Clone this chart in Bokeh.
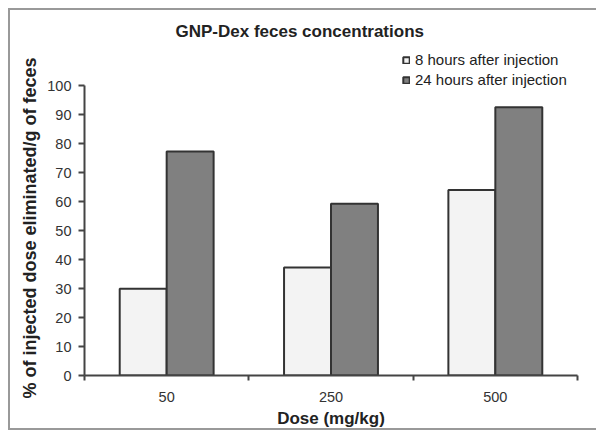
from bokeh.plotting import figure
from bokeh.models import ColumnDataSource, FixedTicker, Range1d, Legend, LegendItem, Title
from bokeh.embed import file_html
from bokeh.resources import INLINE

doses = ["50", "250", "500"]
h8 = [29.9, 37.2, 64.0]
h24 = [77.2, 59.2, 92.5]
series_names = ["8 hours after injection", "24 hours after injection"]
y_ticks = [0, 10, 20, 30, 40, 50, 60, 70, 80, 90, 100]

FONT = "Liberation Sans"
bar_w = 1 / 3.5
centers = [i + 0.5 for i in range(len(doses))]

src = ColumnDataSource(dict(
    x8=[c - bar_w / 2 for c in centers],
    x24=[c + bar_w / 2 for c in centers],
    h8=h8, h24=h24,
))

p = figure(width=588, height=422, output_backend="svg", toolbar_location=None,
           x_range=Range1d(0, len(doses)), y_range=Range1d(0, 112.07),
           min_border_left=74, min_border_right=21, min_border_top=40, min_border_bottom=57)
p.title.text = "GNP-Dex feces concentrations"
p.title.align = "left"
p.title.offset = 91
p.title.text_font = FONT
p.title.text_font_size = "17px"
p.title.text_font_style = "bold"
p.title.text_color = "#222222"
p.title.standoff = 19

p.grid.visible = False
p.outline_line_color = None
p.background_fill_color = "white"
p.border_fill_color = "white"

r8 = p.vbar(x="x8", top="h8", width=bar_w, source=src, fill_color="#f3f3f3",
            line_color="#333333", line_width=2)
r24 = p.vbar(x="x24", top="h24", width=bar_w, source=src, fill_color="#808080",
             line_color="#333333", line_width=2)

xa = p.xaxis[0]
xa.ticker = FixedTicker(ticks=centers, minor_ticks=list(range(len(doses) + 1)))
xa.major_label_overrides = {c: d for c, d in zip(centers, doses)}
xa.major_tick_out = 0
xa.major_tick_in = 0
xa.minor_tick_out = 5
xa.minor_tick_in = 0
xa.minor_tick_line_color = "#444444"
xa.minor_tick_line_width = 2
xa.axis_line_color = "#444444"
xa.axis_line_width = 2
xa.major_label_text_font = FONT
xa.major_label_text_font_size = "14.5px"
xa.major_label_text_color = "#333333"
xa.major_label_standoff = 11
xa.axis_label = "Dose (mg/kg)"
xa.axis_label_text_font = FONT
xa.axis_label_text_font_size = "17px"
xa.axis_label_text_font_style = "bold"
xa.axis_label_text_color = "#222222"
xa.axis_label_standoff = 4

ya = p.yaxis[0]
ya.ticker = FixedTicker(ticks=y_ticks, minor_ticks=[])
ya.bounds = (0, 100)
ya.major_tick_out = 6
ya.major_tick_in = 0
ya.major_tick_line_color = "#444444"
ya.major_tick_line_width = 2
ya.axis_line_color = "#444444"
ya.axis_line_width = 2
ya.major_label_text_font = FONT
ya.major_label_text_font_size = "14.5px"
ya.major_label_text_color = "#333333"
ya.major_label_standoff = 7

ylab = Title(text="% of injected dose eliminated/g of feces", align="left", offset=-23,
             text_font=FONT, text_font_size="18px", text_font_style="bold",
             text_color="#222222", standoff=10)
p.add_layout(ylab, "left")

legend = Legend(items=[LegendItem(label=series_names[0], renderers=[r8]),
                       LegendItem(label=series_names[1], renderers=[r24])],
                location=(318, 287), label_text_font=FONT, label_text_font_size="15px",
                label_text_color="#222222", glyph_width=8, glyph_height=8,
                label_standoff=5, spacing=3, padding=0, margin=0,
                border_line_color=None, background_fill_alpha=0)
p.add_layout(legend, "center")

p.styles = {"margin-left": "8px", "margin-top": "8px",
            "border-top": "2px solid #999999", "border-left": "2px solid #999999",
            "border-bottom": "2px solid #999999"}

open("out.html", "w").write(file_html(p, INLINE))
